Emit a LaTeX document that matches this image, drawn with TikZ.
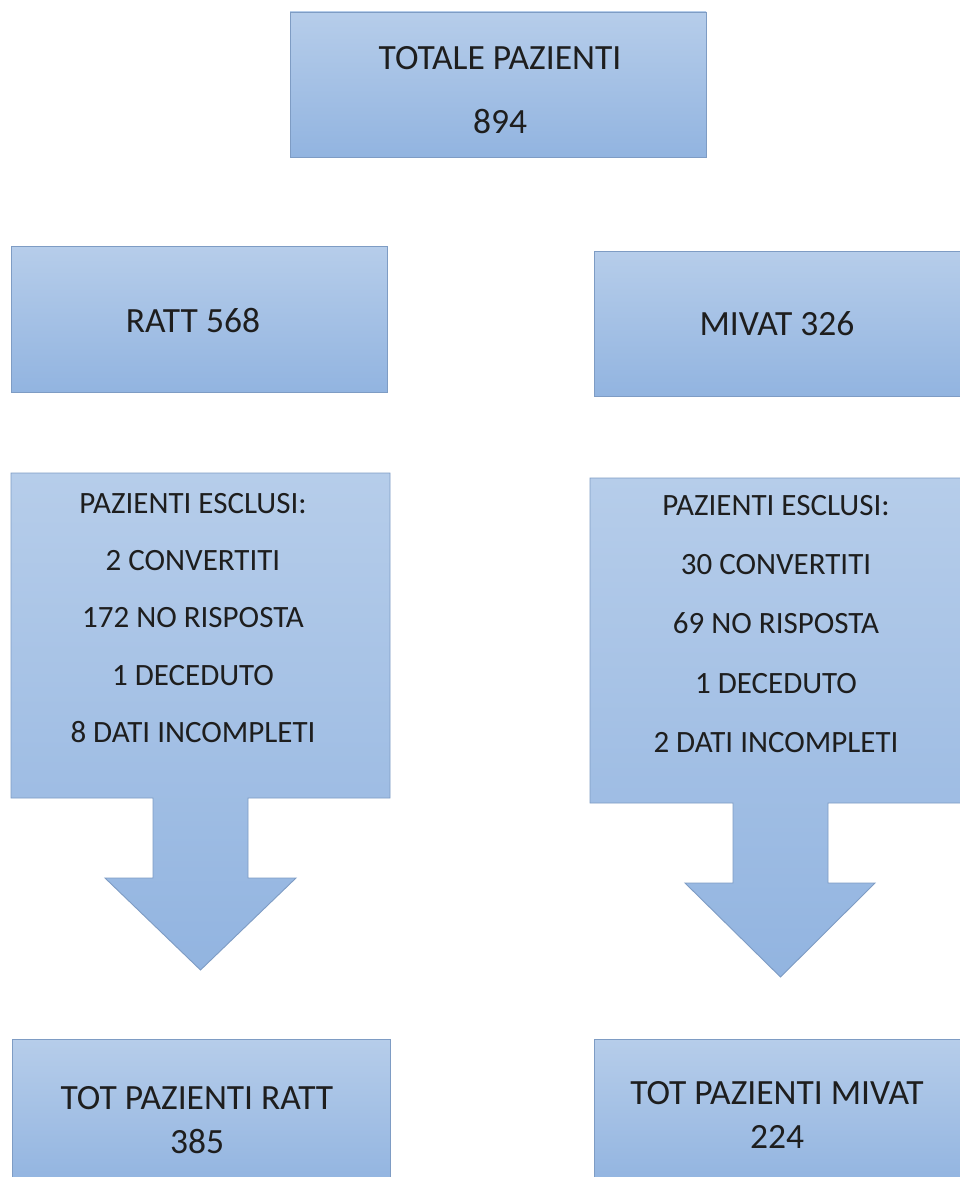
\documentclass[tikz,border=0pt]{standalone}
\usepackage{fontspec}
\setmainfont{Carlito}
\definecolor{boxtop}{HTML}{B6CDEA}
\definecolor{boxbot}{HTML}{92B4E0}
\definecolor{boxline}{HTML}{7E9CC4}
\definecolor{txt}{HTML}{1E1E1E}
\tikzset{
  bluebox/.style={draw=boxline, line width=0.9pt, top color=boxtop, bottom color=boxbot, shading angle=0},
  bigtxt/.style={text=txt, align=center, font=\fontsize{35.5}{64}\selectfont, inner sep=0pt},
  midtxt/.style={text=txt, align=center, font=\fontsize{35.5}{44}\selectfont, inner sep=0pt},
  calltxt/.style={text=txt, align=center, font=\fontsize{31}{57.3}\selectfont, inner sep=0pt},
}
\begin{document}
\begin{tikzpicture}[x=1pt,y=-1pt]
\useasboundingbox (0,0) rectangle (960,1177);
\fill[white] (0,0) rectangle (960,1177);
\clip (0,0) rectangle (960,1177);

% top box
\path[bluebox] (290,12) rectangle (706,157);
\node[bigtxt] (tot) at (500,90) {TOTALE PAZIENTI\\894};

% RATT / MIVAT boxes
\path[bluebox] (11,246) rectangle (387,392);
\node[midtxt] (ratt) at (193,321) {RATT 568};
\path[bluebox] (594,251) rectangle (964,396);
\node[midtxt] (mivat) at (777,324) {MIVAT 326};

% callouts
\path[bluebox] (11,473) -- (390,473) -- (390,798) -- (248,798) -- (248,878)
  -- (296,878) -- (200.5,970) -- (105,878) -- (153,878) -- (153,798)
  -- (11,798) -- cycle;
\node[calltxt] (exl) at (193,618) {PAZIENTI ESCLUSI:\\2 CONVERTITI\\172 NO RISPOSTA\\1 DECEDUTO\\8 DATI INCOMPLETI};

\path[bluebox] (590,478) -- (964,478) -- (964,803) -- (828,803) -- (828,883)
  -- (875,883) -- (780.5,977) -- (685,883) -- (733,883) -- (733,803)
  -- (590,803) -- cycle;
\node[calltxt, font=\fontsize{31}{59.3}\selectfont] (exr) at (776,624) {PAZIENTI ESCLUSI:\\30 CONVERTITI\\69 NO RISPOSTA\\1 DECEDUTO\\2 DATI INCOMPLETI};

% bottom boxes
\path[bluebox] (12,1039) rectangle (390,1185);
\node[midtxt] (totr) at (197,1120) {TOT PAZIENTI RATT\\385};
\path[bluebox] (594,1039) rectangle (964,1185);
\node[midtxt] (totm) at (777,1115) {TOT PAZIENTI MIVAT\\224};
\end{tikzpicture}
\end{document}
